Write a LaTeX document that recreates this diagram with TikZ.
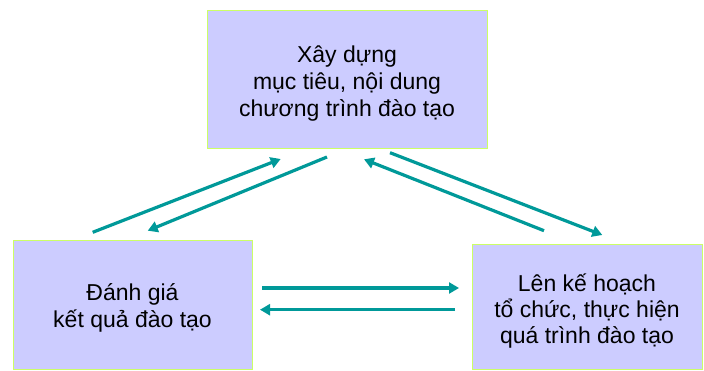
\documentclass[tikz,border=0pt]{standalone}
\usepackage{fontspec}
\setmainfont{Liberation Sans}
\usetikzlibrary{arrows.meta}
\definecolor{boxfill}{RGB}{204,204,255}
\definecolor{boxline}{RGB}{204,255,102}
\definecolor{arrowteal}{RGB}{0,153,153}
\begin{document}
\begin{tikzpicture}[x=1pt,y=-1pt,
  stagebox/.style={draw=boxline, fill=boxfill, line width=1pt, inner sep=0pt,
    align=center, font=\fontsize{23}{27}\selectfont},
  flow/.style={draw=arrowteal, line width=3.2pt,
    -{Triangle[length=10pt,width=11pt]}}]
\useasboundingbox (0,0) rectangle (704,371);
% the three stages of the training cycle
\node[stagebox, minimum width=280pt, minimum height=138pt,
  text height=79pt, text depth=5pt] (plan) at (347,80)
  {Xây dựng\\mục tiêu, nội dung\\chương trình đào tạo};
\node[stagebox, minimum width=239pt, minimum height=129pt,
  text height=50.4pt, text depth=5pt] (eval) at (132.5,305)
  {Đánh giá\\kết quả đào tạo};
\node[stagebox, minimum width=230pt, minimum height=125pt,
  font=\fontsize{23}{26}\selectfont,
  text height=78pt, text depth=5pt] (exec) at (587,306.75)
  {Lên kế hoạch\\tổ chức, thực hiện\\quá trình đào tạo};
% arrow end points
\coordinate (e1) at (92.7,232.3);  \coordinate (p1) at (280.7,159);
\coordinate (p2) at (327,157);     \coordinate (e2) at (147.7,230.7);
\coordinate (p3) at (390,152.7);   \coordinate (x3) at (602.3,235);
\coordinate (x4) at (544,230.7);   \coordinate (p4) at (364,159.3);
\coordinate (e5) at (262.3,288);   \coordinate (x5) at (459,288);
\coordinate (x6) at (455,309.7);   \coordinate (e6) at (260,309.7);
% connectors
\draw[flow] (e1) -- (p1);
\draw[flow] (p2) -- (e2);
\draw[flow] (p3) -- (x3);
\draw[flow] (x4) -- (p4);
\draw[flow] (e5) -- (x5);
\draw[flow] (x6) -- (e6);
\end{tikzpicture}
\end{document}
